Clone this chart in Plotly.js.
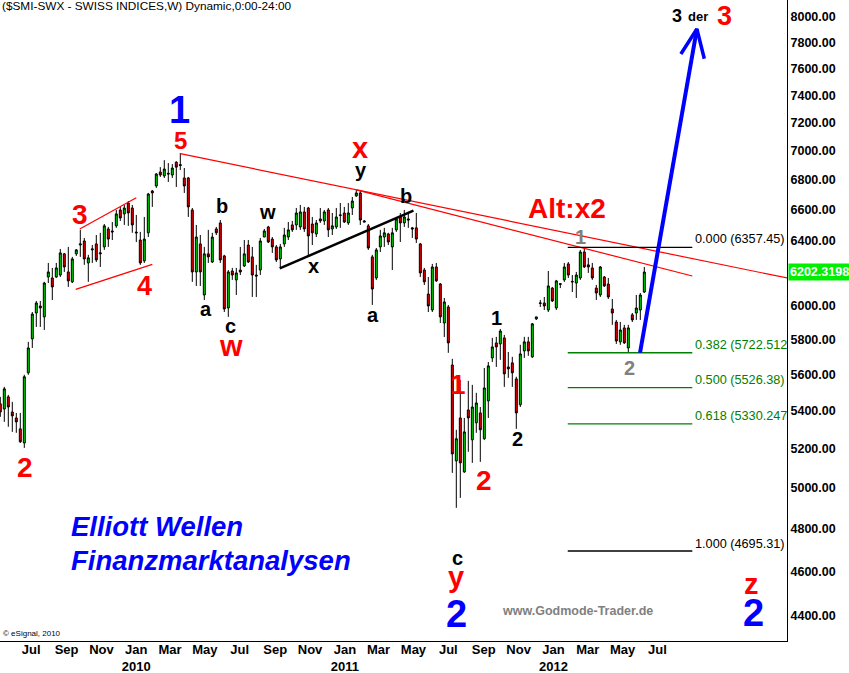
<!DOCTYPE html>
<html><head><meta charset="utf-8">
<script src="https://cdn.plot.ly/plotly-3.0.1.min.js"></script>
<style>html,body{margin:0;padding:0;background:#fff}#chart{width:849px;height:673px}</style>
</head><body><div id="chart"></div>
<script>
// ---- data (weekly SMI candles) ----
const firstWeek = '2009-06-01';
const openP = [
5438,5410,5476,5394,5362,5304,5230,5609,5802,5954,
5996,5931,6172,6166,6172,6184,6316,6203,6142,6316,
6372,6398,6259,6341,6379,6316,6360,6475,6462,6495,
6599,6573,6645,6612,6455,6404,6272,6450,6725,6759,
6854,6827,6845,6833,6921,6905,6813,6813,6599,6203,
6379,6062,6316,6265,6475,6514,6303,5984,6209,6154,
6215,6240,6372,6297,6184,6215,6423,6488,6410,6360,
6284,6379,6423,6501,6501,6488,6586,6612,6507,6443,
6540,6527,6599,6475,6488,6562,6579,6514,6612,6692,
6712,6527,6495,6297,6166,6360,6423,6443,6360,6469,
6553,6514,6540,6482,6482,6379,6215,6068,5972,6234,
6129,5895,5990,5653,5137,5362,5081,5405,5246,5336,
5389,5252,5454,5693,5779,5773,5808,5642,5665,5575,
5433,5733,5785,5699,5919,6011,6014,5972,6104,5984,
6131,6154,6253,6145,6135,6166,6328,6247,6228,6104,
6062,6172,6129,5978,5901,5785,5866,5750,5943,5954,
5972,6080];
const highP = [
5476,5531,5487,5449,5389,5389,5598,5785,5960,6026,
6026,6142,6259,6228,6259,6347,6322,6360,6297,6347,
6469,6417,6310,6372,6436,6450,6507,6488,6520,6599,
6619,6632,6658,6632,6566,6456,6553,6712,6732,6847,
6887,6935,6915,6908,6928,6985,6881,6820,6612,6501,
6436,6360,6469,6450,6488,6533,6310,6215,6228,6228,
6360,6404,6404,6360,6247,6417,6475,6495,6423,6372,
6379,6482,6520,6527,6612,6632,6619,6619,6553,6533,
6612,6599,6612,6579,6612,6645,6619,6645,6685,6732,
6732,6533,6507,6310,6353,6469,6482,6450,6482,6553,
6579,6599,6586,6488,6579,6385,6228,6172,6253,6259,
6135,6044,6002,5688,5299,5570,5362,5564,5542,5498,
5421,5636,5670,5808,5814,5860,5825,5727,5699,5587,
5768,5814,5814,5895,5931,6032,6050,6209,6111,6154,
6135,6259,6265,6184,6203,6341,6357,6291,6259,6123,
6240,6178,6166,6038,5913,5901,5884,5884,5954,6062,
6074,6234];
const lowP = [
5368,5341,5315,5288,5283,5230,5204,5598,5750,5872,
5872,5854,6135,6032,6166,6172,6203,6111,6135,6303,
6297,6247,6142,6259,6265,6234,6341,6360,6404,6482,
6527,6501,6495,6450,6391,6247,6259,6423,6619,6746,
6820,6813,6786,6813,6752,6867,6712,6553,6142,6117,
6117,6032,6259,6259,6436,6259,5960,5931,6154,6062,
6184,6234,6259,6050,6050,6184,6423,6385,6322,6265,
6228,6360,6404,6456,6469,6469,6456,6297,6372,6423,
6514,6501,6423,6436,6475,6482,6514,6501,6566,6685,
6501,6520,6341,6002,6154,6328,6360,6372,6215,6456,
6391,6488,6482,6417,6385,6172,6123,5960,5960,6142,
5895,5813,5722,5076,4902,4951,5076,5184,5127,5283,
5132,5246,5362,5670,5642,5682,5531,5581,5531,5304,
5421,5693,5705,5693,5913,5990,5972,5960,6020,5972,
6104,6142,6166,6080,6044,6154,6228,6197,6154,6032,
6050,6111,6038,5884,5773,5768,5773,5722,5901,5913,
5913,6074];
const closeP = [
5394,5520,5421,5373,5341,5236,5587,5750,5948,6014,
5984,6135,6203,6111,6228,6322,6234,6148,6284,6341,
6379,6284,6291,6347,6278,6322,6495,6410,6456,6573,
6546,6612,6579,6501,6450,6259,6410,6705,6712,6840,
6833,6874,6840,6881,6887,6898,6759,6619,6203,6423,
6203,6316,6297,6423,6450,6278,5978,6203,6184,6197,
6203,6316,6265,6184,6178,6398,6462,6391,6360,6278,
6360,6436,6469,6469,6579,6586,6475,6430,6450,6514,
6527,6586,6469,6495,6553,6566,6520,6579,6658,6712,
6533,6520,6353,6098,6341,6430,6450,6391,6450,6540,
6514,6553,6533,6475,6410,6197,6142,5996,6234,6148,
5931,6020,5779,5173,5252,5127,5288,5362,5421,5443,
5299,5525,5648,5756,5756,5848,5603,5631,5609,5389,
5716,5785,5733,5890,5931,6014,5996,6117,6026,6148,
6127,6234,6184,6142,6184,6328,6234,6234,6166,6074,
6234,6117,6050,5954,5790,5854,5779,5866,5913,5984,
6062,6202.32];
const lastPrice = 6202.3198;

// fibonacci retracement levels drawn on the chart
const fibLevels = [6357.45, 5722.512, 5526.38, 5330.247, 4695.31];
const fibTexts  = ['0.000 (6357.45)', '0.382 (5722.512', '0.500 (5526.38)', '0.618 (5330.247', '1.000 (4695.31)'];
const fibSpan   = ['2012-02-19', '2012-09-24'];

// hand-drawn lines (dates, prices)
const trendMainDates = ['2010-04-12', '2013-03-10'];
const trendMainPrices = [6980, 6165];
const trendAltDates = ['2011-02-14', '2012-09-24'];
const trendAltPrices = [6732, 6178];
const wedgeTopDates = ['2009-10-18', '2010-01-25'];
const wedgeTopPrices = [6475, 6680];
const wedgeBotDates = ['2009-10-11', '2010-02-22'];
const wedgeBotPrices = [6096, 6250];
const xLineDates = ['2010-10-03', '2011-05-25'];
const xLinePrices = [6225, 6594];
const arrowDates = ['2012-06-24 12:00', '2012-10-02'];
const arrowPrices = [5722.512, 7905];
const arrowHeadDates = ['2012-09-04', '2012-10-02', '2012-10-15'];
const arrowHeadPrices = [7710, 7905, 7674];

// axis ticks
const tickMonths = ['2009-07','2009-09','2009-11','2010-01','2010-03','2010-05','2010-07','2010-09','2010-11',
  '2011-01','2011-03','2011-05','2011-07','2011-09','2011-11','2012-01','2012-03','2012-05','2012-07'];
const tickTexts = ['Jul','Sep','Nov','Jan<br>2010','Mar','May','Jul','Sep','Nov',
  'Jan<br>2011','Mar','May','Jul','Sep','Nov','Jan<br>2012','Mar','May','Jul'];
const priceTicks = [4400,4600,4800,5000,5200,5400,5600,5800,6000,6400,6600,6800,7000,7200,7400,7600,7800,8000];

// ---- build ----
const DAY = 86400000;
const t0 = Date.parse(firstWeek + 'T00:00:00Z');
function iso(ms){ return new Date(ms).toISOString().replace('T',' ').replace('Z','').slice(0,19); }
const weeks = openP.map((_, i) => iso(t0 + i * 7 * DAY));

const F = 'Liberation Sans, Arial, sans-serif';
const traces = [];
traces.push({
  type:'candlestick', x:weeks, open:openP, high:highP, low:lowP, close:closeP,
  increasing:{line:{color:'#000', width:1}, fillcolor:'#00e000'},
  decreasing:{line:{color:'#000', width:1}, fillcolor:'#ee0000'},
  whiskerwidth:0, hoverinfo:'skip', showlegend:false
});
function line(x, y, color, width){
  traces.push({type:'scatter', mode:'lines', x:x, y:y, line:{color:color, width:width}, hoverinfo:'skip', showlegend:false});
}
line(trendMainDates, trendMainPrices, '#ff0000', 1.2);
line(trendAltDates, trendAltPrices, '#ff0000', 1.2);
line(wedgeTopDates, wedgeTopPrices, '#ff0000', 1.2);
line(wedgeBotDates, wedgeBotPrices, '#ff0000', 1.2);
line(xLineDates, xLinePrices, '#000000', 2.5);
fibLevels.forEach((v, k) => {
  const c = (k === 0 || k === fibLevels.length - 1) ? '#000000' : '#008000';
  line(fibSpan, [v, v], c, 1.3);
});
line(arrowDates, arrowPrices, '#0000ff', 4);
line(arrowHeadDates, arrowHeadPrices, '#0000ff', 3.5);

// label placement helpers (pixel positions inside the plot area -> paper coords)
const PW = 787, PH = 641;
function lab(text, x, y, size, color, extra){
  return Object.assign({xref:'paper', yref:'paper', x:x/PW, y:1-y/PH, text:text, showarrow:false,
    xanchor:'center', yanchor:'middle', borderpad:0,
    font:{family:F, size:size, color:color}}, extra || {});
}
const R = '#ff0000', B = '#0000ff', K = '#000000', G = '#808080';
const ann = [
  lab('($SMI-SWX - SWISS INDICES,W) Dynamic,0:00-24:00', 1, 6, 11.8, K, {xanchor:'left'}),
  lab('<b>1</b>', 179, 110, 38, B),
  lab('<b>5</b>', 180, 140, 24, R),
  lab('<b>3</b>', 80, 214, 28, R),
  lab('<b>4</b>', 144, 286, 27, R),
  lab('<b>2</b>', 24.5, 467, 28, R),
  lab('<b>w</b>', 231, 346, 29, R),
  lab('<b>x</b>', 359.5, 147.5, 29, R),
  lab('<b>1</b>', 458.5, 384, 28, R),
  lab('<b>2</b>', 483.5, 480, 28, R),
  lab('<b>y</b>', 456, 577, 29, R),
  lab('<b>z</b>', 751, 583.5, 29, R),
  lab('<b>Alt:x2</b>', 567, 208, 28, R),
  lab('<b>3</b>', 724, 16.3, 27, R),
  lab('<b>3</b>', 677, 16.3, 18, K),
  lab('<b>der</b>', 698, 16, 13, K),
  lab('<b>2</b>', 456, 614, 38, B),
  lab('<b>2</b>', 753, 613, 38, B),
  lab('<b>b</b>', 222, 206, 20, K),
  lab('<b>a</b>', 205.5, 308.8, 20, K),
  lab('<b>c</b>', 230, 326, 20, K),
  lab('<b>w</b>', 267.5, 211.6, 20, K),
  lab('<b>x</b>', 313.5, 266, 20, K),
  lab('<b>y</b>', 360.5, 169.5, 20, K),
  lab('<b>b</b>', 406, 196, 20, K),
  lab('<b>a</b>', 373, 315, 20, K),
  lab('<b>1</b>', 496.5, 317.5, 20, K),
  lab('<b>2</b>', 517, 439, 20, K),
  lab('<b>c</b>', 457, 558, 20, K),
  lab('<b>1</b>', 580, 237, 20, G),
  lab('<b>2</b>', 629, 368, 20, G),
  lab('<b><i>Elliott Wellen</i></b>', 70, 526, 27.5, B, {xanchor:'left'}),
  lab('<b><i>Finanzmarktanalysen</i></b>', 70, 560, 27.5, B, {xanchor:'left'}),
  lab('<b>www.Godmode-Trader.de</b>', 577, 611, 12.5, G),
  lab('© eSignal, 2010', 2, 633, 8, K, {xanchor:'left'})
];
const fibY = [239.4, 345, 380.4, 416.4, 544];
fibTexts.forEach((t, k) => {
  const c = (k === 0 || k === fibTexts.length - 1) ? '#000000' : '#008000';
  ann.push(lab(t, 694, fibY[k], 12.7, c, {xanchor:'left'}));
});
ann.push({xref:'paper', yref:'y', x:1, y:Math.log10(lastPrice), xanchor:'left', yanchor:'middle', xshift:1,
  showarrow:false, text:'<b>' + lastPrice.toFixed(4) + '</b>', bgcolor:'#00ee00', borderpad:1,
  font:{family:F, size:12.5, color:'#ffffff'}});

const layout = {
  width:849, height:673,
  margin:{l:0, r:62, t:0, b:32, pad:0},
  paper_bgcolor:'#ffffff', plot_bgcolor:'#ffffff',
  showlegend:false,
  xaxis:{type:'date', range:[t0 - 0.525*DAY, t0 + 1376.7*DAY], showgrid:false, zeroline:false,
    showline:true, linecolor:'#000', linewidth:1, ticks:'', ticklabelstandoff:-4,
    tickvals: tickMonths.map(m => m + '-25'), ticktext: tickTexts.map(t => '<b>' + t + '</b>'),
    tickfont:{family:F, size:13, color:'#000'}, rangeslider:{visible:false}, fixedrange:true},
  yaxis:{type:'log', side:'right', range:[Math.log10(4292), Math.log10(8137)], showgrid:false, zeroline:false,
    showline:true, linecolor:'#000', linewidth:1, ticks:'',
    tickvals: priceTicks, ticktext: priceTicks.map(v => '<b>' + v.toFixed(2) + '</b>'),
    tickfont:{family:F, size:12.5, color:'#000'}, fixedrange:true},
  annotations: ann
};
Plotly.newPlot('chart', traces, layout, {displayModeBar:false, staticPlot:true});
</script></body></html>
